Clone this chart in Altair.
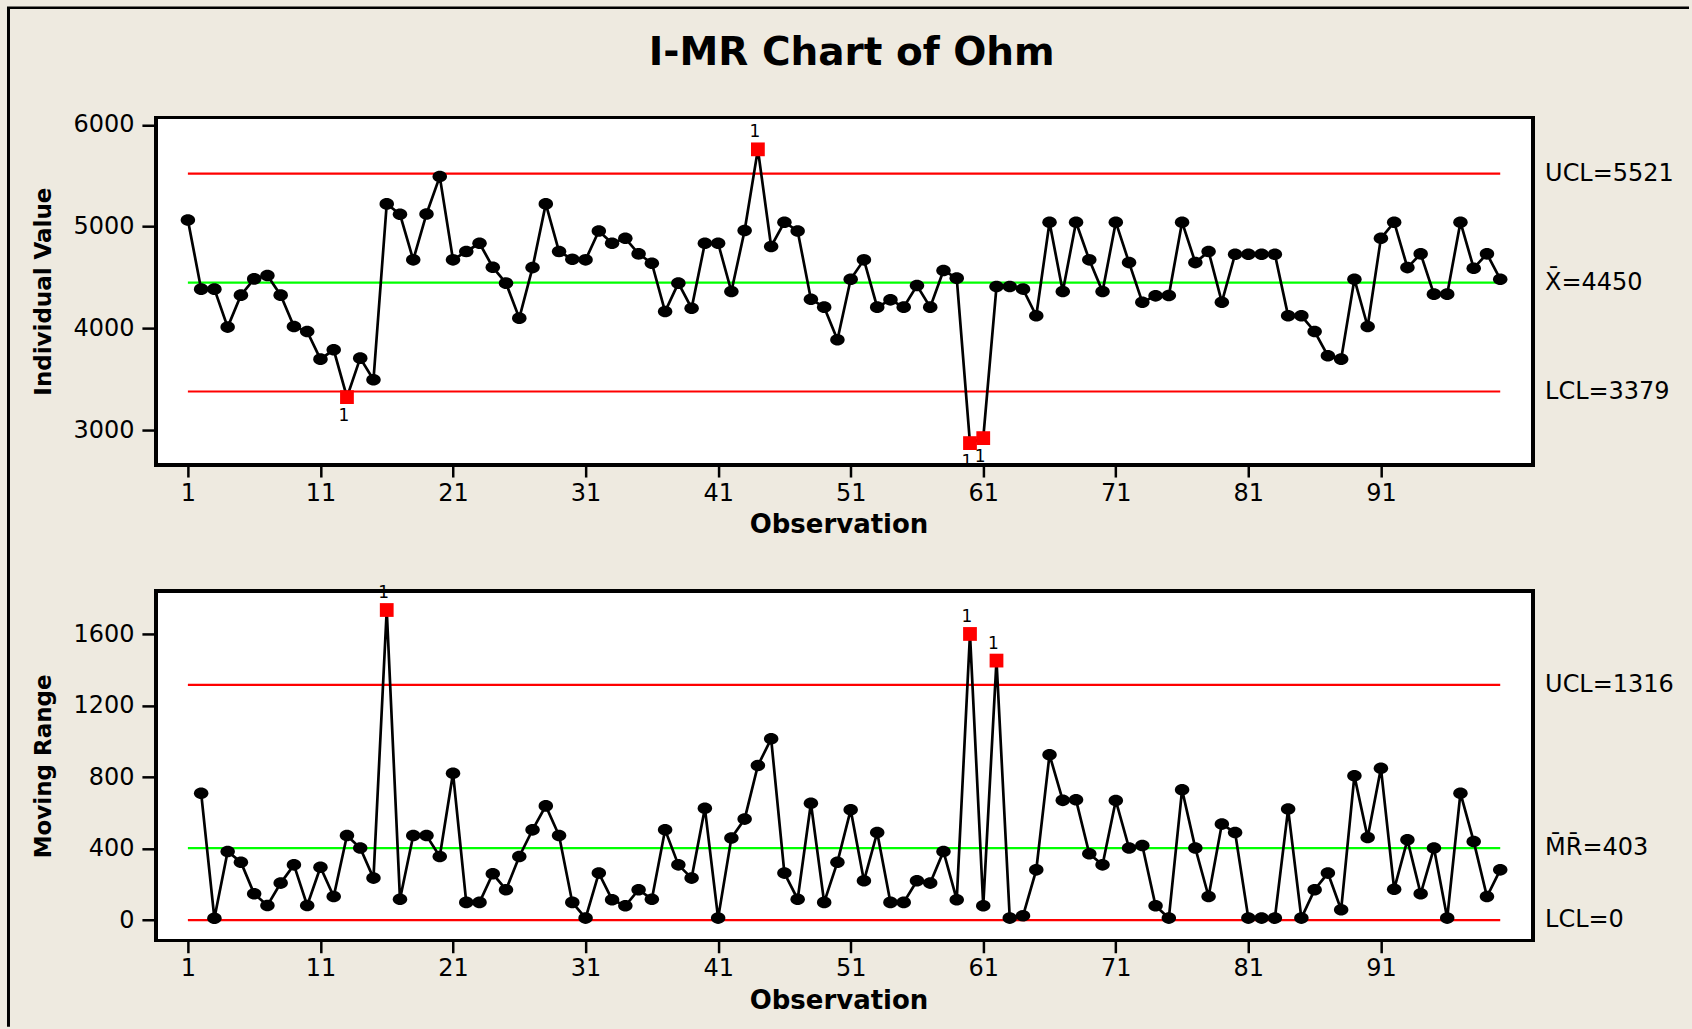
import altair as alt
import pandas as pd

# ---------------- data ----------------
obs = list(range(1, 101))
individual = [
    5065, 4385, 4385, 4012, 4326, 4486, 4519, 4326, 4018, 3969,
    3697, 3789, 3324, 3707, 3494, 5223, 5121, 4673, 5124, 5491,
    4673, 4755, 4836, 4601, 4444, 4100, 4597, 5223, 4755, 4679,
    4673, 4957, 4836, 4885, 4732, 4640, 4165, 4444, 4198, 4836,
    4836, 4362, 4961, 5759, 4804, 5043, 4957, 4286, 4208, 3887,
    4483, 4673, 4208, 4280, 4208, 4421, 4208, 4568, 4493, 2872,
    2921, 4411, 4411, 4385, 4123, 5043, 4362, 5043, 4673, 4362,
    5043, 4646, 4257, 4319, 4322, 5043, 4646, 4755, 4257, 4728,
    4728, 4728, 4728, 4123, 4123, 3969, 3730, 3697, 4483, 4018,
    4885, 5043, 4597, 4732, 4336, 4336, 5043, 4591, 4732, 4483,
]
mr_obs = list(range(2, 101))
moving_range = [
    710, 10, 384, 324, 147, 82, 207, 309, 82,
    296, 132, 473, 403, 235, 1735, 117, 473, 473, 356,
    822, 99, 99, 259, 170, 356, 505, 639, 473, 99,
    11, 263, 114, 80, 170, 117, 505, 309, 235, 626,
    11, 459, 565, 865, 1014, 263, 117, 654, 99, 324,
    617, 220, 490, 99, 99, 220, 207, 384, 114, 1601,
    80, 1452, 11, 24, 281, 925, 670, 673, 371, 309,
    669, 403, 417, 80, 11, 729, 403, 132, 537, 490,
    11, 11, 11, 621, 11, 170, 263, 58, 807, 462,
    850, 173, 449, 147, 403, 11, 710, 440, 132, 281,
]
i_flags_above = [44]
i_flags_below = [13, 60, 61]
mr_flags_above = [16, 60, 62]

i_limits = [5521, 4450, 3379]
i_limit_labels = ["UCL=5521", "X\u0304=4450", "LCL=3379"]
mr_limits = [1316, 403, 0]
mr_limit_labels = ["UCL=1316", "M\u0304R\u0304=403", "LCL=0"]
limit_colors = ["#FF0000", "#00FF00", "#FF0000"]

x_ticks = [1, 11, 21, 31, 41, 51, 61, 71, 81, 91]
i_ticks = [3000, 4000, 5000, 6000]
mr_ticks = [0, 400, 800, 1200, 1600]

chart_title = "I-MR Chart of Ohm"

# ---------------- layout constants ----------------
W = 1378
H1 = 348
H2 = 350
X_DOMAIN = [-1.413, 102.48]
I_DOMAIN = [2656.5, 6074.6]
MR_DOMAIN = [-115.6, 1841.6]
BG = "#EEEAE0"
FONT = "DejaVu Sans"
ELLIPSE = "M-1,0A1,0.8,0,1,0,1,0A1,0.8,0,1,0,-1,0Z"

xscale = alt.Scale(domain=X_DOMAIN, nice=False, zero=False)
xaxis = alt.Axis(values=x_ticks, title="Observation", format="d", zindex=2,
                 titleX=W / 2 - 6)


def panel(values, xs, ydomain, yticks, ytitle, limits, limit_labels,
          above, below, height, extras_front, extras_back):
    yscale = alt.Scale(domain=ydomain, nice=False, zero=False)
    yaxis = alt.Axis(values=yticks, title=ytitle, format="d", zindex=2)
    X = lambda f: alt.X(f, scale=xscale, axis=xaxis)
    Y = lambda f: alt.Y(f, scale=yscale, axis=yaxis)

    df = pd.DataFrame({"obs": xs, "value": values})
    flagged = above + below
    df_ok = df[~df["obs"].isin(flagged)]
    df_flag = df[df["obs"].isin(flagged)]
    df_above = df[df["obs"].isin(above)].assign(lab="1")
    df_below = df[df["obs"].isin(below)].assign(lab="1")
    lim = pd.DataFrame({
        "start": [obs[0]] * 3, "end": [obs[-1]] * 3,
        "value": limits, "label": limit_labels, "color": limit_colors,
    })

    white = alt.Chart(df).mark_rect(color="white").encode(
        x=alt.value(0), x2=alt.value(W), y=alt.value(0), y2=alt.value(height))

    line = alt.Chart(df).mark_line(color="black", strokeWidth=2.7).encode(
        x=X("obs:Q"), y=Y("value:Q"))

    rules = alt.Chart(lim).mark_rule(strokeWidth=2.2).encode(
        x=X("start:Q"), x2="end:Q", y=Y("value:Q"),
        color=alt.Color("color:N", scale=None),
    )

    pts = alt.Chart(df_ok).mark_point(shape=ELLIPSE, filled=True, size=210,
                                      color="black", opacity=1).encode(
        x=X("obs:Q"), y=Y("value:Q"))

    sq = alt.Chart(df_flag).mark_square(size=190, color="#FF0000",
                                        opacity=1).encode(
        x=X("obs:Q"), y=Y("value:Q"))

    layers = extras_back + [white, rules, line, pts, sq]

    if len(df_above):
        layers.append(alt.Chart(df_above).mark_text(
            fontSize=17, font=FONT, color="black", dy=-17, dx=-3,
            baseline="middle").encode(
            x=X("obs:Q"), y=Y("value:Q"), text="lab:N"))
    if len(df_below):
        layers.append(alt.Chart(df_below).mark_text(
            fontSize=17, font=FONT, color="black", dy=19, dx=-3,
            baseline="middle").encode(
            x=X("obs:Q"), y=Y("value:Q"), text="lab:N"))

    labels = alt.Chart(lim).mark_text(
        align="left", baseline="middle", fontSize=24, font=FONT,
        color="black").encode(
        x=alt.value(W + 12), y=Y("value:Q"), text="label:N")
    layers.append(labels)

    frame = alt.Chart(df).mark_rect(filled=False, color="black",
                                    strokeWidth=2.5).encode(
        x=alt.value(0), x2=alt.value(W), y=alt.value(0), y2=alt.value(height))
    layers += extras_front + [frame]

    return alt.layer(*layers).properties(width=W, height=height)


# page background, outer border and title (drawn in the top panel's frame)
bgdf = pd.DataFrame({"t": [chart_title]})
beige = alt.Chart(bgdf).mark_rect(color=BG).encode(
    x=alt.value(-155.7), x2=alt.value(1536.3),
    y=alt.value(-116.7), y2=alt.value(912.3))
border_left = alt.Chart(bgdf).mark_rule(color="black", strokeWidth=3).encode(
    x=alt.value(-147.5), y=alt.value(-110), y2=alt.value(910))
border_top = alt.Chart(bgdf).mark_rule(color="black", strokeWidth=2.5).encode(
    x=alt.value(-149), x2=alt.value(1534), y=alt.value(-109.5))
title = alt.Chart(bgdf).mark_text(
    fontSize=39, font=FONT, fontWeight="bold", color="black",
    align="center", baseline="middle").encode(
    x=alt.value(696.3), y=alt.value(-64), text="t:N")

top = panel(individual, obs, I_DOMAIN, i_ticks, "Individual Value",
            i_limits, i_limit_labels, i_flags_above, i_flags_below, H1,
            [title, border_left, border_top], [beige])
bottom = panel(moving_range, mr_obs, MR_DOMAIN, mr_ticks, "Moving Range",
               mr_limits, mr_limit_labels, mr_flags_above, [], H2, [], [])

chart = alt.vconcat(top, bottom, spacing=126, bounds="flush").properties(
    padding=0, background=BG
).configure_view(
    stroke=None, fill=None
).configure_axis(
    labelFont=FONT, labelFontSize=24, labelColor="black",
    titleFont=FONT, titleFontWeight="bold", titleColor="black",
    tickColor="black", tickWidth=2.5, domain=False, grid=False,
    labelFlush=False, labelOverlap=False,
).configure_axisX(
    tickSize=12, labelPadding=4, titleFontSize=26, titlePadding=7,
).configure_axisY(
    tickSize=14, labelPadding=8, titleFontSize=23, titlePadding=17,
)

chart.save("out.html", embed_options={"renderer": "svg", "actions": False})
